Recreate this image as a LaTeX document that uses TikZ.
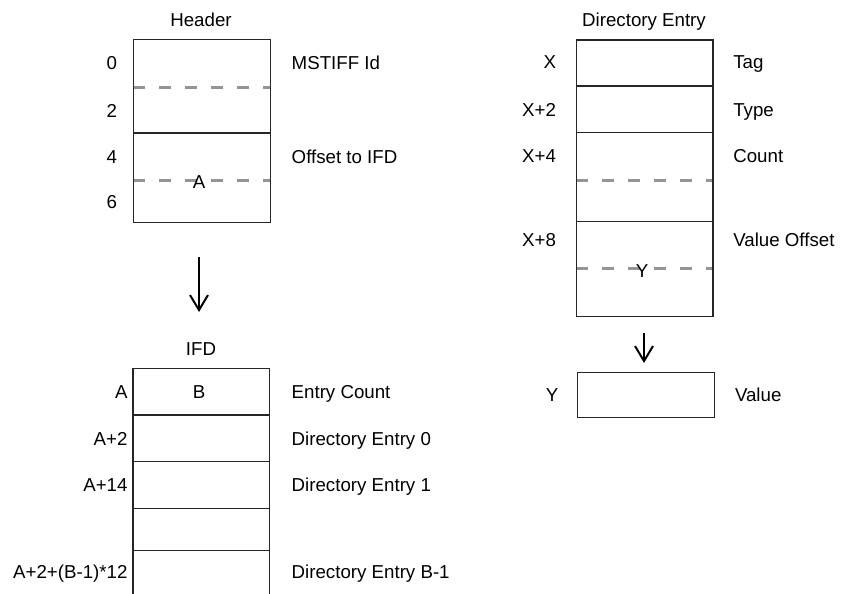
\documentclass[tikz,border=0pt]{standalone}
\usepackage{fontspec}
\setmainfont{Liberation Sans}
\usetikzlibrary{arrows.meta}
\begin{document}
\begin{tikzpicture}[x=1pt,y=-1pt,
  txt/.style={font=\fontsize{18.7}{22}\selectfont, inner sep=0pt, outer sep=0pt},
  ctr/.style={txt, anchor=base},
  lft/.style={txt, anchor=base east},
  rgt/.style={txt, anchor=base west},
  boxline/.style={draw=black!85, line width=1.3pt},
  dashline/.style={draw=black!42, line width=3pt, dash pattern=on 12pt off 14pt},
  arr/.style={-{Straight Barb[length=15pt,width=18pt]}, line width=2pt}]
\useasboundingbox (0,0) rectangle (843,594);

% ---------- Header ----------
\node[ctr] (hdrtitle) at (201,27) {Header};
\draw[dashline] (133,87) -- (269.5,87);
\draw[dashline] (133,180) -- (269.5,180);
\node[draw=black!85, line width=1.3pt, anchor=north west, minimum width=136.5pt, minimum height=183pt, inner sep=0pt] (hdr) at (133,39) {};
\draw[boxline] (133,133) -- (269.5,133);
\node[lft] (h0) at (117,70) {0};
\node[lft] (h2) at (117,117) {2};
\node[lft] (h4) at (117,163) {4};
\node[lft] (h6) at (117,208.5) {6};
\node[rgt] (hid) at (291.7,70) {MSTIFF Id};
\node[rgt] (hoff) at (291.7,163) {Offset to IFD};
\node[ctr] (hA) at (199,188) {A};

% arrow header -> IFD
\coordinate (a1s) at (199,257);
\coordinate (a1e) at (199,312);
\draw[arr] (a1s) -- (a1e);

% ---------- IFD ----------
\node[ctr] (ifdtitle) at (201,355) {IFD};
\draw[boxline] (133,600) -- (133,368.3) -- (269.5,368.3) -- (269.5,600);
\draw[boxline] (133,415) -- (269.5,415);
\draw[boxline] (133,461.7) -- (269.5,461.7);
\draw[boxline] (133,508.3) -- (269.5,508.3);
\draw[boxline] (133,550.7) -- (269.5,550.7);
\node[lft] (iA) at (127.5,398.3) {A};
\node[ctr] (iB) at (199,398.3) {B};
\node[lft] (iA2) at (127.5,445) {A+2};
\node[lft] (iA14) at (127.5,491.7) {A+14};
\node[lft] (iAn) at (127.5,578.3) {A+2+(B-1)*12};
\node[rgt] (ec) at (291.7,398.3) {Entry Count};
\node[rgt] (de0) at (291.7,445) {Directory Entry 0};
\node[rgt] (de1) at (291.7,491.7) {Directory Entry 1};
\node[rgt] (den) at (291.7,578.3) {Directory Entry B-1};

% ---------- Directory Entry ----------
\node[ctr] (detitle) at (644,27) {Directory Entry};
\draw[dashline] (576,180) -- (712.3,180);
\draw[dashline] (576,268.3) -- (712.3,268.3);
\node[draw=black!85, line width=1.3pt, anchor=north west, minimum width=136.3pt, minimum height=276.7pt, inner sep=0pt] (de) at (576,39.3) {};
\draw[boxline] (576,86) -- (712.3,86);
\draw[boxline] (576,132.7) -- (712.3,132.7);
\draw[boxline] (576,221.7) -- (712.3,221.7);
\node[lft] (dX) at (556,68.5) {X};
\node[lft] (dX2) at (556,116.7) {X+2};
\node[lft] (dX4) at (556,162.7) {X+4};
\node[lft] (dX8) at (556,246) {X+8};
\node[rgt] (dtag) at (733.3,68.5) {Tag};
\node[rgt] (dtype) at (733.3,116.7) {Type};
\node[rgt] (dcount) at (733.3,162.7) {Count};
\node[rgt] (dvo) at (733.3,246) {Value Offset};
\node[ctr] (dY) at (642,277) {Y};

% arrow entry -> value
\coordinate (a2s) at (644,333);
\coordinate (a2e) at (644,363);
\draw[arr] (a2s) -- (a2e);

% ---------- Value ----------
\node[draw=black!85, line width=1.3pt, anchor=north west, minimum width=137pt, minimum height=45pt, inner sep=0pt] (val) at (577,372) {};
\node[lft] (vY) at (558.3,401.7) {Y};
\node[rgt] (vval) at (735,401.7) {Value};
\end{tikzpicture}
\end{document}
